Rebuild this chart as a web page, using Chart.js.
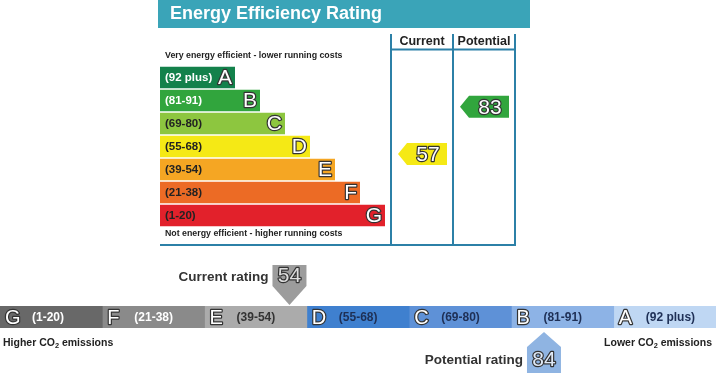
<!DOCTYPE html>
<html><head><meta charset="utf-8">
<script src="https://cdn.jsdelivr.net/npm/chart.js@4.4.1/dist/chart.umd.min.js"></script>
<style>
html,body{margin:0;padding:0;background:#fff;width:716px;height:373px;overflow:hidden}
#wrap{position:relative;width:716px;height:373px}
canvas{position:absolute;left:0}
</style></head><body>
<div id="wrap">
<canvas id="top" width="716" height="250" style="top:0;width:716px;height:250px"></canvas>
<canvas id="bot" width="716" height="123" style="top:250px;width:716px;height:123px"></canvas>
</div>
<script>
// ---- data ----
const bandLetters = ['A','B','C','D','E','F','G'];
const bandRanges = ['(92 plus)','(81-91)','(69-80)','(55-68)','(39-54)','(21-38)','(1-20)'];
const bandLow = [92,81,69,55,39,21,1];
const bandHigh = [100,91,80,68,54,38,20];
const energyCurrent = 57;
const energyPotential = 83;
const co2Current = 54;
const co2Potential = 84;
const titleText = 'Energy Efficiency Rating';
const columnHeaders = ['Current','Potential'];

// ---- styles ----
const FONT = '"Liberation Sans", Arial, sans-serif';
const energyColors = ['#13814b','#31a53d','#8dc63f','#f5e915','#f5a623','#ec6b25','#e2212b'];
const energyTextColors = ['#ffffff','#ffffff','#222222','#222222','#222222','#222222','#222222'];
const co2Colors = ['#bfd7f3','#8db3e6','#5e91d7','#3f80cf','#ababab','#8a8a8a','#686868'];
const co2TextColors = ['#1e2f55','#1e2f55','#1e2f55','#1e2f55','#333333','#ffffff','#ffffff'];
const lineColor = '#2c80a7';

function bandIndexOf(v){ for(let i=0;i<bandLow.length;i++){ if(v>=bandLow[i]) return i; } return bandLow.length-1; }

function outlined(ctx, txt, x, y, size, fill, stroke, align){
  ctx.save();
  ctx.font = size + 'px ' + FONT;
  ctx.textAlign = align; ctx.textBaseline = 'middle';
  ctx.lineWidth = 2.4; ctx.strokeStyle = stroke; ctx.lineJoin = 'round';
  ctx.strokeText(txt, x, y);
  ctx.fillStyle = fill; ctx.fillText(txt, x, y);
  ctx.restore();
}
function text(ctx, txt, x, y, size, color, align, weight){
  ctx.save();
  ctx.font = (weight||'bold') + ' ' + size + 'px ' + FONT;
  ctx.textAlign = align; ctx.textBaseline = 'middle';
  ctx.fillStyle = color; ctx.fillText(txt, x, y);
  ctx.restore();
}
function co2Text(ctx, before, after, x, y, size, color, align){
  ctx.save();
  ctx.font = 'bold ' + size + 'px ' + FONT;
  const w1 = ctx.measureText(before).width;
  const w3 = ctx.measureText(after).width;
  ctx.font = 'bold ' + (size*0.7) + 'px ' + FONT;
  const w2 = ctx.measureText('2').width;
  const total = w1 + w2 + w3;
  let sx = align === 'right' ? x - total : x;
  ctx.textBaseline = 'middle'; ctx.textAlign = 'left'; ctx.fillStyle = color;
  ctx.font = 'bold ' + size + 'px ' + FONT;
  ctx.fillText(before, sx, y);
  ctx.font = 'bold ' + (size*0.7) + 'px ' + FONT;
  ctx.fillText('2', sx + w1, y + size*0.3);
  ctx.font = 'bold ' + size + 'px ' + FONT;
  ctx.fillText(after, sx + w1 + w2, y);
  ctx.restore();
}

// ---- top chart: energy efficiency rating ----
const barLen = bandLetters.map((_, i) => i + 3);
const epcPlugin = {
  id: 'epc',
  afterDraw(chart){
    const ctx = chart.ctx;
    const ys = chart.scales.y;
    const area = chart.chartArea;
    // title bar
    ctx.fillStyle = '#3aa4b8';
    ctx.fillRect(158, 0, 372, 28);
    text(ctx, titleText, 170, 14.5, 18, '#ffffff', 'left');
    text(ctx, 'Very energy efficient - lower running costs', 165, 56, 8.8, '#222222', 'left');
    text(ctx, 'Not energy efficient - higher running costs', 165, 234, 8.8, '#222222', 'left');
    // columns frame
    const colX = [391, 453, 515];
    ctx.save();
    ctx.strokeStyle = lineColor; ctx.lineWidth = 2;
    ctx.beginPath();
    colX.forEach(x => { ctx.moveTo(x, 34); ctx.lineTo(x, 246); });
    ctx.moveTo(colX[0], 49.5); ctx.lineTo(colX[2], 49.5);
    ctx.moveTo(area.left, 245); ctx.lineTo(colX[2]+1, 245);
    ctx.stroke();
    ctx.restore();
    text(ctx, columnHeaders[0], (colX[0]+colX[1])/2, 41.5, 12.5, '#222222', 'center');
    text(ctx, columnHeaders[1], (colX[1]+colX[2])/2, 41.5, 12.5, '#222222', 'center');
    // bar labels
    const meta = chart.getDatasetMeta(0);
    meta.data.forEach((el, i) => {
      text(ctx, bandRanges[i], el.base + 5, el.y + 0.5, 11.5, energyTextColors[i], 'left');
      outlined(ctx, bandLetters[i], el.x - 3, el.y + 1, 21, '#ffffff', '#333333', 'right');
    });
    // arrows
    const pitch = ys.getPixelForValue(1) - ys.getPixelForValue(0);
    const arrows = [[energyCurrent, 0], [energyPotential, 1]];
    arrows.forEach(([v, c]) => {
      const bi = bandIndexOf(v);
      const frac = (bandHigh[bi] - v + 0.5) / (bandHigh[bi] - bandLow[bi] + 1) - 0.5;
      const cy = ys.getPixelForValue(bi) + frac * pitch;
      const left = colX[c] + 7, right = colX[c+1] - 6, h = 22, tip = 9;
      ctx.save();
      ctx.fillStyle = energyColors[bi];
      ctx.beginPath();
      ctx.moveTo(left, cy);
      ctx.lineTo(left + tip, cy - h/2);
      ctx.lineTo(right, cy - h/2);
      ctx.lineTo(right, cy + h/2);
      ctx.lineTo(left + tip, cy + h/2);
      ctx.closePath(); ctx.fill();
      ctx.restore();
      outlined(ctx, String(v), (left + tip + right)/2 + 1, cy + 1, 21, '#ffffff', '#333333', 'center');
    });
  }
};
new Chart(document.getElementById('top'), {
  type: 'bar',
  data: { labels: bandLetters, datasets: [{ data: barLen, backgroundColor: energyColors, borderWidth: 0, barPercentage: 0.93, categoryPercentage: 1 }] },
  options: {
    responsive: false, animation: false, devicePixelRatio: 1, indexAxis: 'y',
    layout: { padding: { left: 160, right: 200, top: 66, bottom: 23 } },
    plugins: { legend: { display: false }, tooltip: { enabled: false } },
    scales: { x: { display: false, min: 0, max: 14.24 }, y: { display: false } }
  },
  plugins: [epcPlugin]
});

// ---- bottom chart: CO2 band ----
const co2Order = [6,5,4,3,2,1,0]; // G..A left to right
const co2Plugin = {
  id: 'co2',
  afterDraw(chart){
    const ctx = chart.ctx;
    const xs = chart.scales.x;
    const area = chart.chartArea;
    const cy = (area.top + area.bottom) / 2;
    co2Order.forEach((bi, k) => {
      const sx = xs.getPixelForValue(k);
      outlined(ctx, bandLetters[bi], sx + 5, cy + 1, 20, '#ffffff', '#333333', 'left');
      text(ctx, bandRanges[bi], sx + 32, cy + 0.5, 12, co2TextColors[bi], 'left');
    });
    co2Text(ctx, 'Higher CO', ' emissions', 3, area.bottom + 15, 10.5, '#222222', 'left');
    co2Text(ctx, 'Lower CO', ' emissions', 712, area.bottom + 15, 10.5, '#222222', 'right');
    const pointer = (v) => {
      const bi = bandIndexOf(v);
      const k = co2Order.indexOf(bi);
      let f = (v - bandLow[bi] + 0.5) / (bandHigh[bi] - bandLow[bi] + 1);
      f = Math.min(0.83, Math.max(0.17, f));
      return { x: xs.getPixelForValue(k + f), bi };
    };
    // current (above)
    const cp = pointer(co2Current);
    const bw = 34;
    ctx.save();
    ctx.fillStyle = '#9c9c9c';
    ctx.beginPath();
    ctx.moveTo(cp.x - bw/2, 15); ctx.lineTo(cp.x + bw/2, 15);
    ctx.lineTo(cp.x + bw/2, 36); ctx.lineTo(cp.x, area.top - 1);
    ctx.lineTo(cp.x - bw/2, 36); ctx.closePath(); ctx.fill();
    ctx.restore();
    outlined(ctx, String(co2Current), cp.x, 26, 21, '#dcdcdc', '#333333', 'center');
    text(ctx, 'Current rating', cp.x - bw/2 - 4, 27, 13.5, '#333333', 'right');
    // potential (below)
    const pp = pointer(co2Potential);
    ctx.save();
    ctx.fillStyle = '#8fb4e2';
    ctx.beginPath();
    ctx.moveTo(pp.x, area.bottom + 4); ctx.lineTo(pp.x + bw/2, 97);
    ctx.lineTo(pp.x + bw/2, 123); ctx.lineTo(pp.x - bw/2, 123);
    ctx.lineTo(pp.x - bw/2, 97); ctx.closePath(); ctx.fill();
    ctx.restore();
    outlined(ctx, String(co2Potential), pp.x, 110, 21, '#dfe9f6', '#333333', 'center');
    text(ctx, 'Potential rating', pp.x - bw/2 - 4, 110, 13.5, '#333333', 'right');
  }
};
new Chart(document.getElementById('bot'), {
  type: 'bar',
  data: {
    labels: ['CO2'],
    datasets: co2Order.map(bi => ({ label: bandLetters[bi], data: [1], backgroundColor: co2Colors[bi], borderWidth: 0, barPercentage: 1, categoryPercentage: 1 }))
  },
  options: {
    responsive: false, animation: false, devicePixelRatio: 1, indexAxis: 'y',
    layout: { padding: { left: 0, right: 0, top: 56, bottom: 45 } },
    plugins: { legend: { display: false }, tooltip: { enabled: false } },
    scales: { x: { display: false, stacked: true, min: 0, max: 7 }, y: { display: false, stacked: true } }
  },
  plugins: [co2Plugin]
});
</script>
</body></html>
